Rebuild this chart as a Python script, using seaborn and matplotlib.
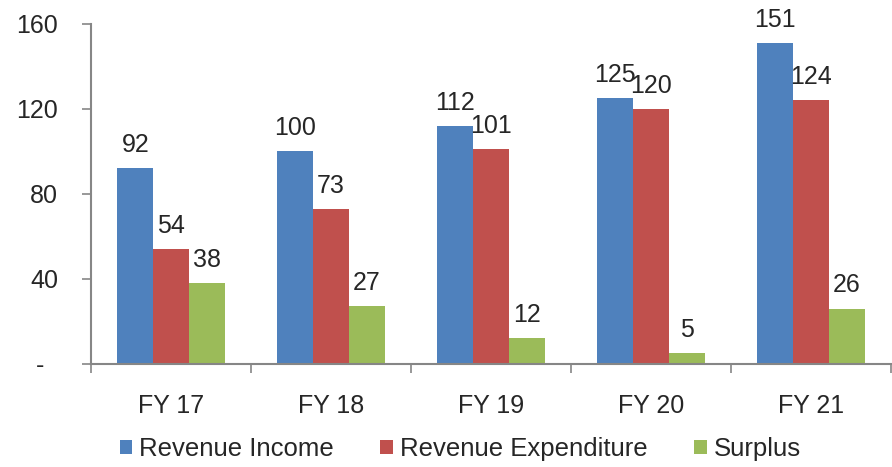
import numpy as np
import pandas as pd
import matplotlib
matplotlib.use("Agg")
import matplotlib.pyplot as plt
import seaborn as sns

years = ["FY 17", "FY 18", "FY 19", "FY 20", "FY 21"]
revenue_income = [92, 100, 112, 125, 151]
revenue_expenditure = [54, 73, 101, 120, 124]
surplus = [38, 27, 12, 5, 26]

series_names = ["Revenue Income", "Revenue Expenditure", "Surplus"]
colors = ["#4F81BD", "#C0504D", "#9BBB59"]

df = pd.DataFrame({
    "year": years * 3,
    "series": np.repeat(series_names, len(years)),
    "value": revenue_income + revenue_expenditure + surplus,
})

sns.set_style("white")
plt.rcParams['font.family'] = ['Liberation Sans', 'DejaVu Sans']

fig = plt.figure(figsize=(8.92, 4.67), dpi=100)
ax = fig.add_axes([0.102, 0.221, 0.897, 0.728])

sns.barplot(data=df, x="year", y="value", hue="series", palette=colors,
            width=0.67, saturation=1, ax=ax, edgecolor="none")

# value labels above each bar
for cont in ax.containers:
    ax.bar_label(cont, labels=[f"{v:g}" for v in cont.datavalues],
                 padding=8, fontsize=18)

ax.set_ylim(0, 160)
ax.set_xlim(-0.5, 4.5)
ax.set_yticks([0, 40, 80, 120, 160])
ax.set_yticklabels(["-  ", "40", "80", "120", "160"], fontsize=18)
ax.tick_params(axis="y", which="major", length=6.5, width=1.2,
               color="#868686", pad=17, direction="out", left=True)

# x labels at centres, tick marks at the boundaries
ax.set_xticks(range(len(years)))
ax.set_xticklabels(years, fontsize=18)
ax.tick_params(axis="x", which="major", length=0, pad=22)
ax.set_xticks(np.arange(-0.5, len(years)), minor=True)
ax.tick_params(axis="x", which="minor", length=6.5, width=1.2,
               color="#868686", direction="out", bottom=True)

for side in ["top", "right"]:
    ax.spines[side].set_visible(False)
for side in ["left", "bottom"]:
    ax.spines[side].set_color("#868686")
    ax.spines[side].set_linewidth(1.5)

ax.set_xlabel("")
ax.set_ylabel("")

ax.legend(loc="center", bbox_to_anchor=(0.516, 0.038),
          bbox_transform=fig.transFigure, ncol=3,
          frameon=False, fontsize=18.5, handlelength=0.5, handleheight=0.5,
          handletextpad=0.27, columnspacing=1.8, borderaxespad=0,
          borderpad=0)

fig.savefig("out.png", dpi=100)
